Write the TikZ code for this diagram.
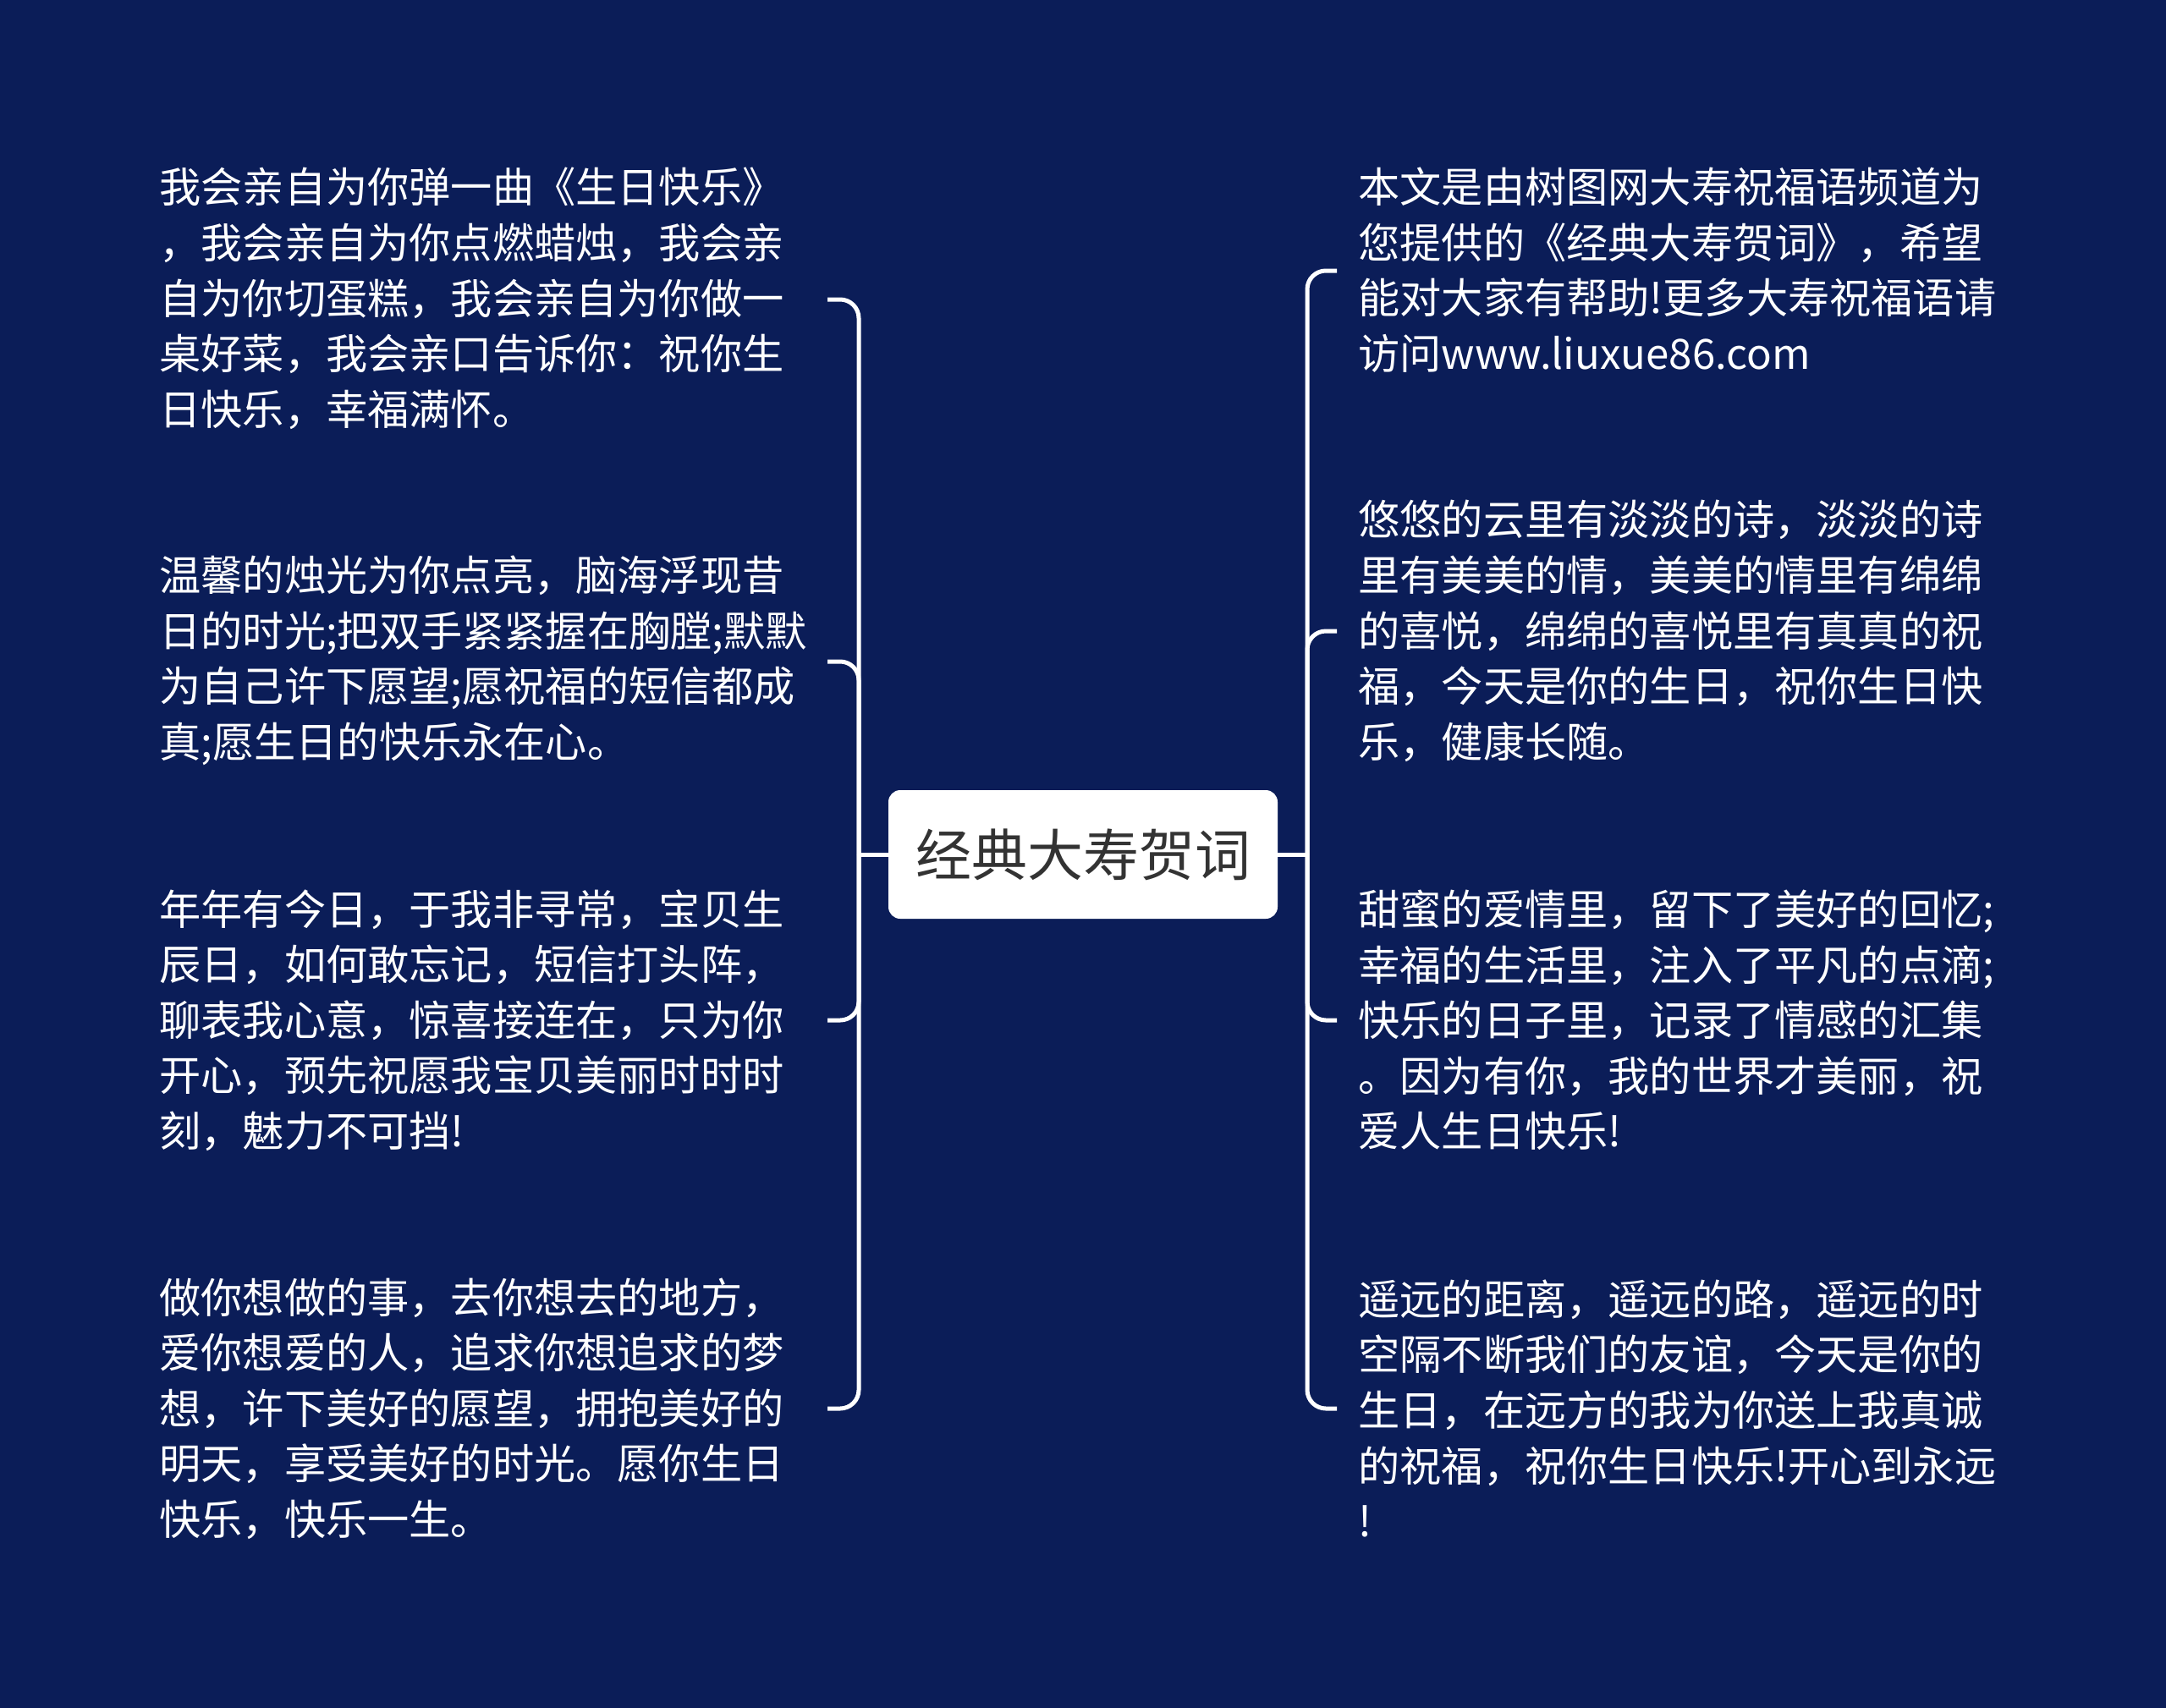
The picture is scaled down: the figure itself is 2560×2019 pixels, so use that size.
\documentclass[tikz,border=0pt]{standalone}
\usepackage{fontspec}
\setmainfont{Noto Sans CJK SC}
\definecolor{bgnavy}{HTML}{0B1D58}
\definecolor{titlegray}{HTML}{333333}
\begin{document}
\begin{tikzpicture}[x=0.5pt,y=-0.5pt,
  leaf/.style={anchor=west,inner sep=0pt,align=left,text=white,
    font=\fontsize{24.6pt}{32.8pt}\selectfont},
  rootbox/.style={fill=white,rounded corners=7pt,minimum width=230pt,minimum height=76pt,inner sep=0pt,
    text=titlegray,font=\fontsize{33pt}{40pt}\selectfont},
  branch/.style={draw=white,line width=2.5pt,rounded corners=11pt}]
\fill[bgnavy] (0,0) rectangle (2560,2019);
\useasboundingbox (0,0) rectangle (2560,2019);
\node[rootbox] (root) at (1280,1010) {经典大寿贺词};
% hubs and branch ends
\coordinate (hubL) at (1015,1010);
\coordinate (hubR) at (1545,1010);
\coordinate (bL1) at (978,354);
\coordinate (bL2) at (978,782);
\coordinate (bL3) at (978,1206);
\coordinate (bL4) at (978,1665);
\coordinate (bR1) at (1580,320);
\coordinate (bR2) at (1580,746);
\coordinate (bR3) at (1580,1206);
\coordinate (bR4) at (1580,1665);
% left texts
\node[leaf] (l1) at (188,353) {我会亲自为你弹一曲《生日快乐》\\，我会亲自为你点燃蜡烛，我会亲\\自为你切蛋糕，我会亲自为你做一\\桌好菜，我会亲口告诉你：祝你生\\日快乐，幸福满怀。};
\node[leaf] (l2) at (188,781) {温馨的烛光为你点亮，脑海浮现昔\\日的时光;把双手紧紧握在胸膛;默默\\为自己许下愿望;愿祝福的短信都成\\真;愿生日的快乐永在心。};
\node[leaf] (l3) at (188,1206) {年年有今日，于我非寻常，宝贝生\\辰日，如何敢忘记，短信打头阵，\\聊表我心意，惊喜接连在，只为你\\开心，预先祝愿我宝贝美丽时时时\\刻，魅力不可挡!};
\node[leaf] (l4) at (188,1665) {做你想做的事，去你想去的地方，\\爱你想爱的人，追求你想追求的梦\\想，许下美好的愿望，拥抱美好的\\明天，享受美好的时光。愿你生日\\快乐，快乐一生。};
% right texts
\node[leaf] (r1) at (1605,319) {本文是由树图网大寿祝福语频道为\\您提供的《经典大寿贺词》，希望\\能对大家有帮助!更多大寿祝福语请\\访问www.liuxue86.com};
\node[leaf] (r2) at (1605,746) {悠悠的云里有淡淡的诗，淡淡的诗\\里有美美的情，美美的情里有绵绵\\的喜悦，绵绵的喜悦里有真真的祝\\福，今天是你的生日，祝你生日快\\乐，健康长随。};
\node[leaf] (r3) at (1605,1206) {甜蜜的爱情里，留下了美好的回忆;\\幸福的生活里，注入了平凡的点滴;\\快乐的日子里，记录了情感的汇集\\。因为有你，我的世界才美丽，祝\\爱人生日快乐!};
\node[leaf] (r4) at (1605,1665) {遥远的距离，遥远的路，遥远的时\\空隔不断我们的友谊，今天是你的\\生日，在远方的我为你送上我真诚\\的祝福，祝你生日快乐!开心到永远\\!};
% connectors
\draw[branch] (root.west) -- (hubL);
\draw[branch] (root.east) -- (hubR);
\foreach \b in {bL1,bL2,bL3,bL4} \draw[branch] (hubL) |- (\b);
\foreach \b in {bR1,bR2,bR3,bR4} \draw[branch] (hubR) |- (\b);
\end{tikzpicture}
\end{document}
